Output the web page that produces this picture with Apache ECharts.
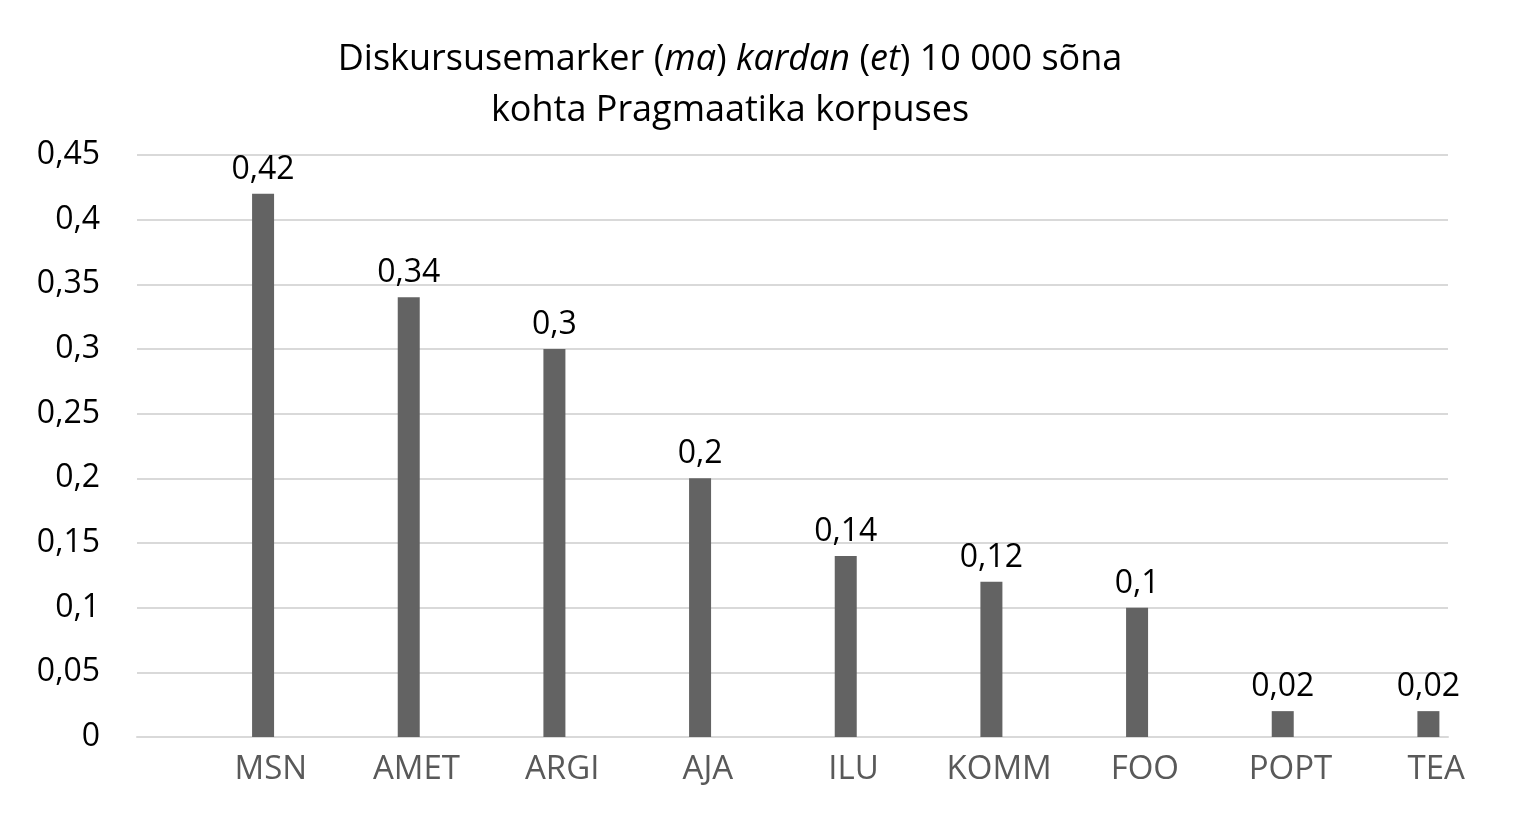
<!DOCTYPE html>
<html><head><meta charset="utf-8">
<script src="https://cdn.jsdelivr.net/npm/echarts@6/dist/echarts.min.js"></script>
<style>html,body{margin:0;padding:0;background:#fff}#c{width:1518px;height:823px}</style>
</head><body><div id="c"></div>
<script>
const categories = ['MSN','AMET','ARGI','AJA','ILU','KOMM','FOO','POPT','TEA'];
const values = [0.42, 0.34, 0.3, 0.2, 0.14, 0.12, 0.1, 0.02, 0.02];
const emptySeries = categories.map(() => null);
const FONT = 'Open Sans';
const fmt = v => String(v).replace('.', ',');

const chart = echarts.init(document.getElementById('c'));
chart.setOption({
  backgroundColor: '#fff',
  animation: false,
  title: {
    text: '{n|Diskursusemarker (}{i|ma}{n|) }{i|kardan}{n| (}{i|et}{n|) 10 000 sõna}\n{n|kohta Pragmaatika korpuses}',
    left: 725, top: 29, textAlign: 'center',
    textStyle: {
      fontFamily: FONT, fontSize: 36, fontWeight: 'normal', color: '#000',
      rich: {
        n: {fontFamily: FONT, fontSize: 36, fontWeight: 'normal', color: '#000', lineHeight: 51},
        i: {fontFamily: FONT, fontSize: 36, fontWeight: 'normal', color: '#000', fontStyle: 'italic', lineHeight: 51}
      }
    }
  },
  grid: {left: 137, right: 70, top: 155, bottom: 86, containLabel: false},
  xAxis: {
    type: 'category', data: categories,
    axisLine: {lineStyle: {color: '#d9d9d9', width: 2}},
    axisTick: {show: false},
    axisLabel: {fontFamily: FONT, fontSize: 33, color: '#595959', margin: 16, padding: [0,0,0,122]}
  },
  yAxis: {
    type: 'value', min: 0, max: 0.45, interval: 0.05,
    axisLine: {show: false}, axisTick: {show: false},
    splitLine: {lineStyle: {color: '#d9d9d9', width: 2}},
    axisLabel: {fontFamily: FONT, fontSize: 32, color: '#000', margin: 37,
      formatter: v => fmt(+v.toFixed(2))}
  },
  series: [
    {type: 'bar', data: emptySeries, barWidth: 22, barGap: '384%'},
    {type: 'bar', data: values, barWidth: 22, barGap: '384%',
      itemStyle: {color: '#636363'},
      label: {show: true, position: 'top', distance: 8, fontFamily: FONT, fontSize: 32, color: '#000',
        formatter: p => fmt(p.value)}}
  ]
});
</script></body></html>
